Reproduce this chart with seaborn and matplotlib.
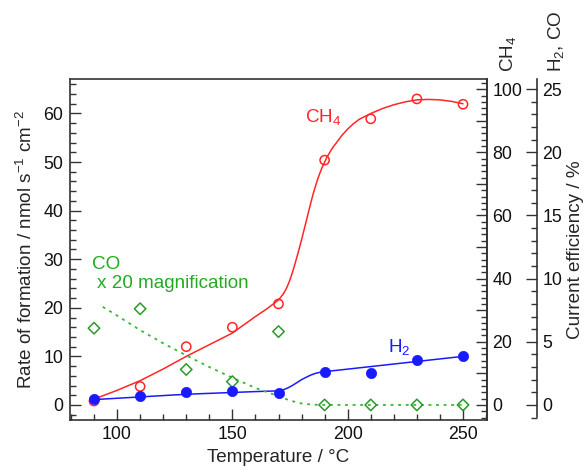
import matplotlib
matplotlib.use("Agg")
import matplotlib.pyplot as plt
from matplotlib.ticker import MultipleLocator, FuncFormatter
import seaborn as sns

# ---- measured points ----
temps = [90, 110, 130, 150, 170, 190, 210, 230, 250]
ch4_rate = [0.8, 3.8, 12.0, 16.0, 20.8, 50.4, 58.9, 63.0, 61.9]
h2_rate = [1.2, 1.9, 2.6, 2.8, 2.5, 6.8, 6.6, 9.3, 10.1]
co_rate_x20 = [15.8, 19.8, 7.3, 4.8, 15.1, 0.0, 0.0, 0.0, 0.0]

# ---- guide curves ----
ch4_curve_t = [90, 100, 110, 120, 130, 140, 150, 160, 165, 170, 171, 172, 173,
               174, 175, 176, 177, 178, 179, 180, 181, 182, 183, 184, 185, 186,
               187, 188, 189, 190, 191, 192, 193, 194, 195, 197.5, 200, 202.5,
               205, 210, 215, 220, 225, 230, 235, 240, 245, 250]
ch4_curve_v = [1.2, 3.0, 5.0, 7.4, 10.0, 12.4, 14.8, 18.2, 19.8, 21.6, 22.2,
               22.8, 23.6, 24.6, 25.8, 27.2, 28.8, 30.5, 32.2, 34.0, 35.9, 37.8,
               39.7, 41.6, 43.4, 45.0, 46.5, 47.8, 49.0, 50.0, 51.0, 51.8, 52.6,
               53.3, 53.9, 55.5, 56.8, 57.9, 58.8, 60.0, 61.0, 61.8, 62.4, 62.8,
               62.9, 62.8, 62.5, 62.0]
h2_curve_t = [90, 130, 160, 170, 172, 174, 176, 178, 180, 182, 184, 186, 188, 190, 250]
h2_curve_v = [1.1, 2.2, 2.75, 2.9, 3.1, 3.5, 4.0, 4.6, 5.2, 5.7, 6.15, 6.5, 6.72, 6.85, 10.0]
co_curve_t = [93.8, 100, 110, 120, 130, 140, 150, 160, 170, 175, 180, 185, 190, 250]
co_curve_v = [20.2, 18.4, 15.4, 12.7, 10.2, 7.8, 5.6, 3.5, 1.8, 0.9, 0.3, 0.05, 0.0, 0.0]

x_ticks = [100, 150, 200, 250]
y_ticks = [0, 10, 20, 30, 40, 50, 60]
ch4_eff_ticks = [0, 10, 20, 30, 40, 50, 60, 70, 80, 90, 100]
h2co_eff_ticks = [0, 5, 10, 15, 20, 25]

sns.set_style("ticks")
plt.rcParams["font.family"] = ["Liberation Sans", "DejaVu Sans"]
plt.rcParams["mathtext.fontset"] = "custom"
plt.rcParams["mathtext.rm"] = "Liberation Sans"
plt.rcParams["mathtext.it"] = "Liberation Sans"
plt.rcParams["mathtext.default"] = "regular"

W, H = 587, 473
fig = plt.figure(figsize=(W / 100, H / 100), dpi=100)
L, R, T, B = 70, 487, 79, 420
ax = fig.add_axes([L / W, 1 - B / H, (R - L) / W, (B - T) / H])

RED = "#ff2626"
BLUE = "#1a1aff"
GREEN_M = "#2a9a2a"
GREEN_L = "#33bb33"
SPINE = "#333333"
FS_TICK = 12.8
FS_LAB = 13.6

# curves
sns.lineplot(x=ch4_curve_t, y=ch4_curve_v, ax=ax, color=RED, linewidth=1.1, zorder=2)
sns.lineplot(x=h2_curve_t, y=h2_curve_v, ax=ax, color=BLUE, linewidth=1.1, zorder=2)
sns.lineplot(x=co_curve_t, y=co_curve_v, ax=ax, color=GREEN_L, linewidth=1.3,
             linestyle=(0, (1.6, 2.6)), zorder=2)

# markers
sns.scatterplot(x=temps, y=co_rate_x20, ax=ax, marker="D", s=34, facecolors="none",
                edgecolor=GREEN_M, linewidth=1.1, zorder=3)
sns.scatterplot(x=temps, y=ch4_rate, ax=ax, marker="o", s=44, facecolors="none",
                edgecolor=RED, linewidth=1.1, zorder=3)
sns.scatterplot(x=temps, y=h2_rate, ax=ax, marker="o", s=55, color=BLUE,
                edgecolor=BLUE, linewidth=0.5, zorder=4)

ylo, yhi = -3.1, 67.1
ax.set_xlim(79.6, 260.4)
ax.set_ylim(ylo, yhi)
ax.set_xticks(x_ticks)
ax.set_yticks(y_ticks)
ax.xaxis.set_minor_locator(MultipleLocator(10))
ax.yaxis.set_minor_locator(MultipleLocator(2))
ax.tick_params(axis="both", which="major", direction="in", length=8, width=1.0,
               labelsize=FS_TICK, color=SPINE, labelcolor="#111111")
ax.tick_params(axis="both", which="minor", direction="in", length=4.5, width=1.0, color=SPINE)
ax.tick_params(axis="y", pad=5)
ax.tick_params(axis="x", pad=4)
ax.tick_params(axis="x", which="both", top=False)
ax.tick_params(axis="y", which="both", right=False)
for s in ax.spines.values():
    s.set_color(SPINE)
    s.set_linewidth(1.2)
ax.set_xlabel("Temperature / °C", fontsize=FS_LAB, labelpad=5)
ax.set_ylabel("Rate of formation / nmol s$^{-1}$ cm$^{-2}$", fontsize=FS_LAB, labelpad=5)

# annotations
ax.text(181.5, 59.3, "CH$_4$", color=RED, fontsize=FS_LAB, ha="left", va="center")
ax.text(89.2, 28.9, "CO", color="#22aa22", fontsize=FS_LAB, ha="left", va="center")
ax.text(91.3, 25.0, "x 20 magnification", color="#22aa22", fontsize=FS_LAB, ha="left", va="center")
ax.text(217.5, 12.0, "H$_2$", color=BLUE, fontsize=FS_LAB, ha="left", va="center")

# CH4 current efficiency axis
f = 100 / 65.0
ax2 = ax.twinx()
ax2.set_ylim(ylo * f, yhi * f)
ax2.set_yticks(ch4_eff_ticks)
ax2.yaxis.set_major_formatter(FuncFormatter(lambda v, p: f"{int(round(v))}" if round(v) % 20 == 0 else ""))
ax2.yaxis.set_minor_locator(MultipleLocator(2))
ax2.tick_params(axis="y", which="major", direction="in", length=8, width=1.0,
                labelsize=FS_TICK, pad=4, color=SPINE, labelcolor="#111111")
ax2.tick_params(axis="y", which="minor", direction="in", length=4.5, width=1.0, color=SPINE)
for k in ["left", "top", "bottom"]:
    ax2.spines[k].set_visible(False)
ax2.spines["right"].set_color(SPINE)
ax2.spines["right"].set_linewidth(1.2)

# H2, CO current efficiency axis
ax3 = ax.twinx()
ax3.set_ylim(ylo * f / 4, yhi * f / 4)
ax3.spines["right"].set_position(("axes", (537 - L) / (R - L)))
for k in ["left", "top", "bottom"]:
    ax3.spines[k].set_visible(False)
ax3.spines["right"].set_color(SPINE)
ax3.spines["right"].set_linewidth(1.2)
ax3.spines["right"].set_bounds(ylo * f / 4 + 0.25, yhi * f / 4)
ax3.set_yticks(h2co_eff_ticks)
ax3.yaxis.set_minor_locator(MultipleLocator(1))
ax3.tick_params(axis="y", which="major", direction="in", length=8, width=1.0,
                labelsize=FS_TICK, pad=4, color=SPINE, labelcolor="#111111")
ax3.tick_params(axis="y", which="minor", direction="in", length=4.5, width=1.0, color=SPINE)
ax3.set_ylabel("Current efficiency / %", fontsize=FS_LAB, rotation=90, labelpad=3)

fig.text(508 / W, 1 - 72 / H, "CH$_4$", rotation=90, fontsize=FS_LAB, ha="center", va="bottom")
fig.text(556 / W, 1 - 72 / H, "H$_2$, CO", rotation=90, fontsize=FS_LAB, ha="center", va="bottom")

fig.savefig("out.png", dpi=100, facecolor="white")
